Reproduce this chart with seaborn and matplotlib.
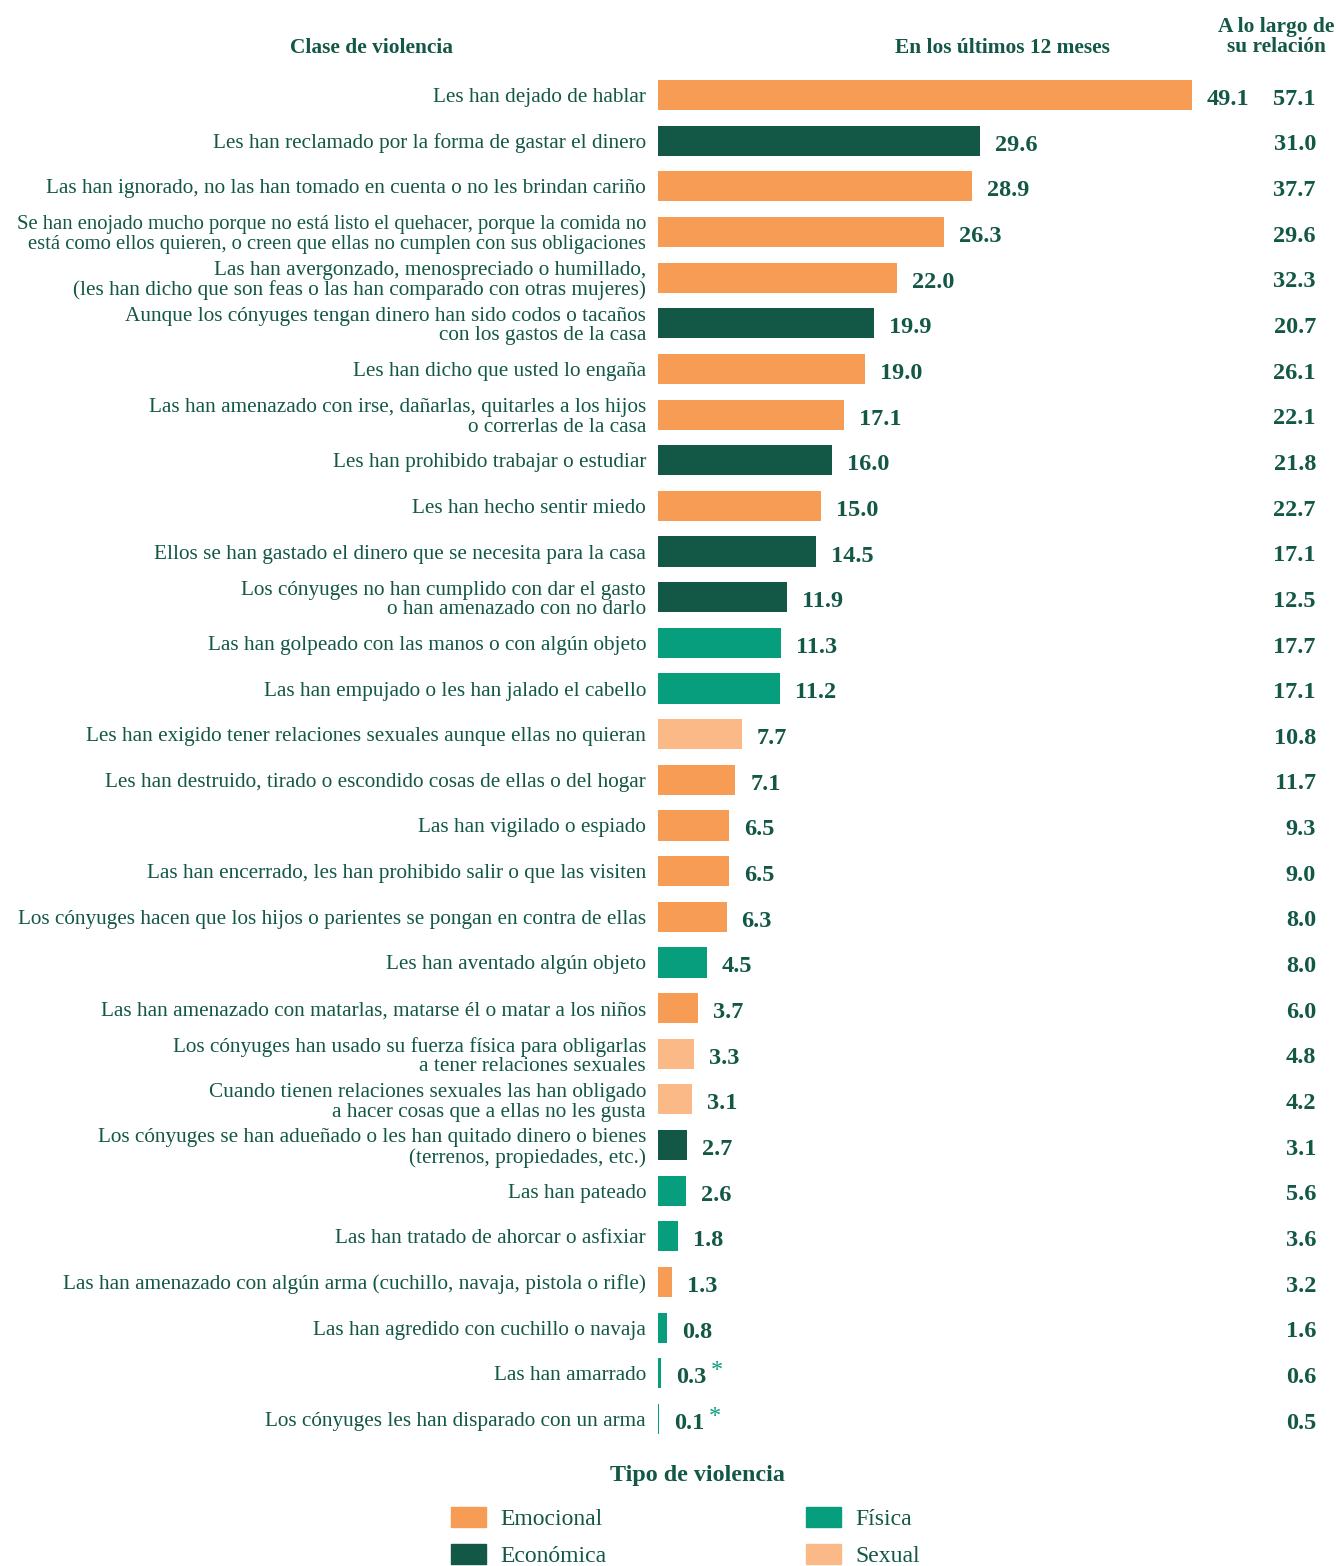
import pandas as pd
import seaborn as sns
import matplotlib.pyplot as plt
import matplotlib.transforms as mtransforms
from matplotlib.patches import Patch

clases = [
    "Les han dejado de hablar",
    "Les han reclamado por la forma de gastar el dinero",
    "Las han ignorado, no las han tomado en cuenta o no les brindan cariño",
    "Se han enojado mucho porque no está listo el quehacer, porque la comida no\nestá como ellos quieren, o creen que ellas no cumplen con sus obligaciones",
    "Las han avergonzado, menospreciado o humillado,\n(les han dicho que son feas o las han comparado con otras mujeres)",
    "Aunque los cónyuges tengan dinero han sido codos o tacaños\ncon los gastos de la casa",
    "Les han dicho que usted lo engaña",
    "Las han amenazado con irse, dañarlas, quitarles a los hijos\no correrlas de la casa",
    "Les han prohibido trabajar o estudiar",
    "Les han hecho sentir miedo",
    "Ellos se han gastado el dinero que se necesita para la casa",
    "Los cónyuges no han cumplido con dar el gasto\no han amenazado con no darlo",
    "Las han golpeado con las manos o con algún objeto",
    "Las han empujado o les han jalado el cabello",
    "Les han exigido tener relaciones sexuales aunque ellas no quieran",
    "Les han destruido, tirado o escondido cosas de ellas o del hogar",
    "Las han vigilado o espiado",
    "Las han encerrado, les han prohibido salir o que las visiten",
    "Los cónyuges hacen que los hijos o parientes se pongan en contra de ellas",
    "Les han aventado algún objeto",
    "Las han amenazado con matarlas, matarse él o matar a los niños",
    "Los cónyuges han usado su fuerza física para obligarlas\na tener relaciones sexuales",
    "Cuando tienen relaciones sexuales las han obligado\na hacer cosas que a ellas no les gusta",
    "Los cónyuges se han adueñado o les han quitado dinero o bienes\n(terrenos, propiedades, etc.)",
    "Las han pateado",
    "Las han tratado de ahorcar o asfixiar",
    "Las han amenazado con algún arma (cuchillo, navaja, pistola o rifle)",
    "Las han agredido con cuchillo o navaja",
    "Las han amarrado",
    "Los cónyuges les han disparado con un arma",
]

tipos = [
    "Emocional", "Económica", "Emocional", "Emocional", "Emocional",
    "Económica", "Emocional", "Emocional", "Económica", "Emocional",
    "Económica", "Económica", "Física", "Física", "Sexual",
    "Emocional", "Emocional", "Emocional", "Emocional", "Física",
    "Emocional", "Sexual", "Sexual", "Económica", "Física",
    "Física", "Emocional", "Física", "Física", "Física",
]

ultimos_12 = [49.1, 29.6, 28.9, 26.3, 22.0, 19.9, 19.0, 17.1, 16.0, 15.0,
              14.5, 11.9, 11.3, 11.2, 7.7, 7.1, 6.5, 6.5, 6.3, 4.5,
              3.7, 3.3, 3.1, 2.7, 2.6, 1.8, 1.3, 0.8, 0.3, 0.1]

a_lo_largo = [57.1, 31.0, 37.7, 29.6, 32.3, 20.7, 26.1, 22.1, 21.8, 22.7,
              17.1, 12.5, 17.7, 17.1, 10.8, 11.7, 9.3, 9.0, 8.0, 8.0,
              6.0, 4.8, 4.2, 3.1, 5.6, 3.6, 3.2, 1.6, 0.6, 0.5]

# valores con asterisco (estimación poco precisa)
con_asterisco = [False] * 28 + [True, True]

orden_tipos = ["Emocional", "Económica", "Física", "Sexual"]
colores = {
    "Emocional": "#f79c55",
    "Económica": "#135746",
    "Física": "#069e7d",
    "Sexual": "#fab987",
}
texto = "#135746"

df = pd.DataFrame({"clase": clases, "tipo": tipos,
                   "ultimos": ultimos_12, "largo": a_lo_largo})

sns.set_style("white")
plt.rcParams["font.family"] = ["Liberation Serif", "DejaVu Serif"]

fig = plt.figure(figsize=(13.36, 15.66), dpi=100)
ax = fig.add_axes([0.4925, 0.0793, 0.4885, 0.8746])

sns.barplot(data=df, x="ultimos", y="clase", hue="tipo", palette=colores,
            hue_order=orden_tipos, dodge=False, width=0.66, legend=False,
            saturation=1, linewidth=0, orient="h", ax=ax)

ax.set_xlim(0, 60)
ax.set_ylim(len(clases) - 0.5, -0.5)
ax.set_xlabel("")
ax.set_ylabel("")
ax.set_xticks([])
ax.tick_params(axis="y", length=0, pad=8.6, labelsize=15.3, labelcolor=texto)
for lbl in ax.get_yticklabels():
    lbl.set_linespacing(1.05)
    if lbl.get_text().startswith("Se han enojado"):
        lbl.set_fontsize(14.9)
sns.despine(left=True, bottom=True)

# columna derecha: x en coordenadas de figura, y en datos, bajada unos puntos
blend = mtransforms.blended_transform_factory(fig.transFigure, ax.transData)
blend = blend + mtransforms.ScaledTranslation(0, -3 / 72, fig.dpi_scale_trans)
for i, (v, w) in enumerate(zip(ultimos_12, a_lo_largo)):
    ax.annotate(f"{v:.1f}", xy=(v, i), xytext=(10.8, -3.2), textcoords="offset points",
                ha="left", va="center", fontsize=17.5, fontweight="bold", color=texto)
    if con_asterisco[i]:
        ax.annotate("*", xy=(v, i), xytext=(35.5, 2), textcoords="offset points",
                    ha="left", va="center", fontsize=17.5, color="#069e7d")
    ax.text(0.985, i, f"{w:.1f}", transform=blend, ha="right", va="center",
            fontsize=17.5, fontweight="bold", color=texto)

# encabezados
fig.text(371 / 1336, 1 - 48 / 1566, "Clase de violencia", ha="center", va="center",
         fontsize=15.4, fontweight="bold", color=texto)
fig.text(1002 / 1336, 1 - 48 / 1566, "En los últimos 12 meses", ha="center", va="center",
         fontsize=15.4, fontweight="bold", color=texto)
fig.text(1276 / 1336, 1 - 37 / 1566, "A lo largo de\nsu relación", ha="center", va="center",
         fontsize=15.4, fontweight="bold", color=texto, linespacing=1.0)

fig.text(697 / 1336, 1 - 1476 / 1566, "Tipo de violencia", ha="center", va="center",
         fontsize=17.3, fontweight="bold", color=texto)

handles = [Patch(color=colores[t]) for t in orden_tipos]
fig.legend(handles, orden_tipos, loc="center", bbox_to_anchor=(0.513, 0.0185),
           ncol=2, frameon=False, fontsize=17, labelcolor=texto,
           handlelength=1.5, handleheight=0.9, handletextpad=0.6,
           columnspacing=8.45, labelspacing=0.6, borderpad=0)

plt.savefig("out.png", dpi=100)
